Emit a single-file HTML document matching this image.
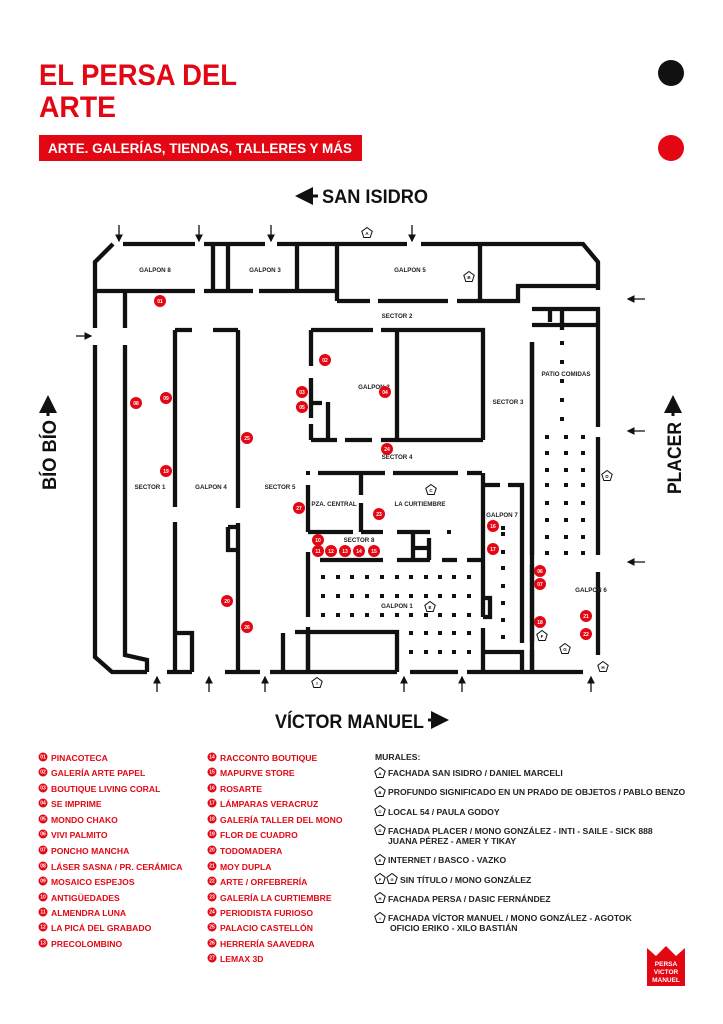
<!DOCTYPE html>
<html><head><meta charset="utf-8"><style>
body{margin:0;background:#fff;}
svg{display:block;font-family:"Liberation Sans",sans-serif;font-weight:bold;}
.w{stroke:#111;stroke-width:4.3;fill:none;stroke-linecap:butt}
.d{fill:#111}
.lb{font-size:6.2px;fill:#222;text-anchor:middle}
.m circle{fill:#e30613}
.m text{fill:#fff;font-size:5px;text-anchor:middle}
.lg{font-size:8.6px;fill:#e30613}
.mu{font-size:8.6px;fill:#222}
.ar{stroke:#111;stroke-width:1.3;fill:none}
.n text{fill:#fff;font-size:4px;text-anchor:middle}
</style></head><body>
<svg width="723" height="1024" viewBox="0 0 723 1024">
<defs>
<marker id="ah" markerWidth="6" markerHeight="6" refX="5" refY="3" orient="auto"><path d="M0,0L6,3L0,6z" fill="#111"/></marker>
<g id="pent"><path d="M0,-5.5L5.2,-1.7L3.2,4.5L-3.2,4.5L-5.2,-1.7Z" fill="#fff" stroke="#111" stroke-width="1"/></g>
</defs>
<text x="39" y="85" font-size="30" fill="#e30613" textLength="198" lengthAdjust="spacingAndGlyphs">EL PERSA DEL</text>
<text x="39" y="117" font-size="30" fill="#e30613" textLength="77" lengthAdjust="spacingAndGlyphs">ARTE</text>
<rect x="39" y="135" width="323" height="26" fill="#e30613"/>
<text x="48" y="153" font-size="13.5" fill="#fff" textLength="304" lengthAdjust="spacingAndGlyphs">ARTE. GALERÍAS, TIENDAS, TALLERES Y MÁS</text>
<circle cx="671" cy="73" r="13" fill="#111"/>
<circle cx="671" cy="148" r="13" fill="#e30613"/>
<path d="M318,196H298" stroke="#111" stroke-width="3" marker-end="url(#ah)"/>
<text x="322" y="203" font-size="19" fill="#111" textLength="106" lengthAdjust="spacingAndGlyphs">SAN ISIDRO</text>
<text x="275" y="728" font-size="19" fill="#111" textLength="149" lengthAdjust="spacingAndGlyphs">VÍCTOR MANUEL</text>
<path d="M428,720H446" stroke="#111" stroke-width="3" marker-end="url(#ah)"/>
<text transform="translate(56,490) rotate(-90)" font-size="19" fill="#111" textLength="70" lengthAdjust="spacingAndGlyphs">BÍO BÍO</text>
<path d="M48,416V398" stroke="#111" stroke-width="3" marker-end="url(#ah)"/>
<text transform="translate(681,494) rotate(-90)" font-size="19" fill="#111" textLength="72" lengthAdjust="spacingAndGlyphs">PLACER</text>
<path d="M673,416V398" stroke="#111" stroke-width="3" marker-end="url(#ah)"/>
<g class="w">
<path d="M95,328V262L113,244"/>
<path d="M123,244H195M204,244H265M277,244H407M421,244H583L598,262V290"/>
<path d="M95,291H195M204,291H253M259,291H337"/>
<path d="M213,244V291M228,244V291M297,244V291M337,244V301"/>
<path d="M337,301H370M378,301H448M457,301H518V286H598"/>
<path d="M480,244V301"/>
<path d="M125,291V328M125,345V655L147,660V672"/>
<path d="M95,345V657L112,672H147"/>
<path d="M175,330H192M213,330H238"/>
<path d="M175,330V507M175,522V672M175,633H192V672"/>
<path d="M238,330V508M238,523V672M228,527H238M228,527V550H238"/>
<path d="M167,672H192M225,672H260M270,672H397M410,672H458M467,672H583"/>
<path d="M311,330H373M381,330H483V440M311,330V366M311,378V418M311,424V440"/>
<path d="M311,440H337M345,440H372M381,440H483M397,330V440M311,403H322M328,402V440"/>
<path d="M532,309H598V427M598,437V555M598,572V655M532,325H598M550,309V322M562,309V330M532,342V672"/>
<path d="M318,473H385M393,473H458M467,473H482"/>
<path d="M361,473V495M361,503V532"/>
<path d="M308,532H353M361,532H383M397,532H430"/>
<path d="M308,485V532M308,552V617M308,627V672"/>
<path d="M320,560H383M397,560H430M442,560H457M467,560H482"/>
<path d="M413,532V560M429,538V560M413,548H429"/>
<path d="M483,473V617M483,598H490V617H483M483,628V672M483,485H500M508,485H522V643"/>
<path d="M483,652H522V672"/>
<path d="M532,342V555M532,565V642M532,650V672"/>
<path d="M295,632H397V672M308,632V672M283,633V672"/>
</g>
<rect x="306" y="471" width="4" height="4" class="d"/>
<rect x="447" y="530" width="4" height="4" class="d"/>
<g class="d">
<rect x="560" y="341" width="4" height="4"/><rect x="560" y="360" width="4" height="4"/><rect x="560" y="379" width="4" height="4"/><rect x="560" y="398" width="4" height="4"/><rect x="560" y="417" width="4" height="4"/>
</g>
<g class="d" id="fg"></g>
<g class="d" id="g7"></g>
<g class="d" id="g1"></g>
<g class="m" id="lm"></g>
<script>
(function(){var ns="http://www.w3.org/2000/svg";function r(g,x,y){var e=document.createElementNS(ns,"rect");e.setAttribute("x",x-2);e.setAttribute("y",y-2);e.setAttribute("width",4);e.setAttribute("height",4);document.getElementById(g).appendChild(e);}
[437,453,470,485,503,520,537,553].forEach(function(y){[547,566,583].forEach(function(x){r("fg",x,y);});});
[528,534,552,568,586,603,620,637].forEach(function(y){r("g7",503,y);});
[577,596,615].forEach(function(y){[323,338,352,367,382,397,411,426,440,454,469].forEach(function(x){r("g1",x,y);});});
[633,652].forEach(function(y){[411,426,440,454,469].forEach(function(x){r("g1",x,y);});});
var lm=document.getElementById("lm");function c(x,y,n){var e=document.createElementNS(ns,"circle");e.setAttribute("cx",x);e.setAttribute("cy",y);e.setAttribute("r",4.5);lm.appendChild(e);var t=document.createElementNS(ns,"text");t.setAttribute("x",x);t.setAttribute("y",y+1.5);t.setAttribute("font-size","4");t.textContent=n;lm.appendChild(t);}
var L=[757,772,788,803,819,834,850,866,881,897,912,927,943];L.forEach(function(y,i){c(43,y,("0"+(i+1)).slice(-2));});
var R=[757,772,788,803,819,834,850,866,881,897,912,927,943,958];R.forEach(function(y,i){c(212,y,""+(i+14));});
})();
</script>
<g class="ar">
<path d="M119,225V241" marker-end="url(#ah)"/><path d="M199,225V241" marker-end="url(#ah)"/><path d="M271,225V241" marker-end="url(#ah)"/><path d="M412,225V241" marker-end="url(#ah)"/>
<path d="M76,336H91" marker-end="url(#ah)"/>
<path d="M645,299H628" marker-end="url(#ah)"/><path d="M645,431H628" marker-end="url(#ah)"/><path d="M645,562H628" marker-end="url(#ah)"/>
<path d="M157,692V677" marker-end="url(#ah)"/><path d="M209,692V677" marker-end="url(#ah)"/><path d="M265,692V677" marker-end="url(#ah)"/><path d="M404,692V677" marker-end="url(#ah)"/><path d="M462,692V677" marker-end="url(#ah)"/><path d="M591,692V677" marker-end="url(#ah)"/>
</g>
<g class="lb">
<text x="155" y="272">GALPON 8</text><text x="265" y="272">GALPON 3</text><text x="410" y="272">GALPON 5</text>
<text x="397" y="318">SECTOR 2</text><text x="374" y="389">GALPON 2</text><text x="508" y="404">SECTOR 3</text>
<text x="566" y="376">PATIO COMIDAS</text><text x="397" y="459">SECTOR 4</text>
<text x="150" y="489">SECTOR 1</text><text x="211" y="489">GALPON 4</text><text x="280" y="489">SECTOR 5</text>
<text x="334" y="506">PZA. CENTRAL</text><text x="420" y="506">LA CURTIEMBRE</text><text x="502" y="517">GALPON 7</text>
<text x="359" y="542">SECTOR 8</text><text x="397" y="608">GALPON 1</text><text x="591" y="592">GALPON 6</text>
</g>
<g font-size="4.5" fill="#111" text-anchor="middle">
<use href="#pent" x="367" y="233"/><text x="367" y="235">A</text>
<use href="#pent" x="469" y="277"/><text x="469" y="279">B</text>
<use href="#pent" x="431" y="490"/><text x="431" y="492">C</text>
<use href="#pent" x="607" y="476"/><text x="607" y="478">D</text>
<use href="#pent" x="430" y="607"/><text x="430" y="609">E</text>
<use href="#pent" x="542" y="636"/><text x="542" y="638">F</text>
<use href="#pent" x="565" y="649"/><text x="565" y="651">G</text>
<use href="#pent" x="603" y="667"/><text x="603" y="669">H</text>
<use href="#pent" x="317" y="683"/><text x="317" y="685">I</text>
</g>
<g class="m">
<circle cx="160" cy="301" r="6"/><text x="160" y="303">01</text>
<circle cx="325" cy="360" r="6"/><text x="325" y="362">02</text>
<circle cx="302" cy="392" r="6"/><text x="302" y="394">03</text>
<circle cx="385" cy="392" r="6"/><text x="385" y="394">04</text>
<circle cx="302" cy="407" r="6"/><text x="302" y="409">05</text>
<circle cx="540" cy="571" r="6"/><text x="540" y="573">06</text>
<circle cx="540" cy="584" r="6"/><text x="540" y="586">07</text>
<circle cx="136" cy="403" r="6"/><text x="136" y="405">08</text>
<circle cx="166" cy="398" r="6"/><text x="166" y="400">09</text>
<circle cx="318" cy="540" r="6"/><text x="318" y="542">10</text>
<circle cx="318" cy="551" r="6"/><text x="318" y="553">11</text>
<circle cx="331" cy="551" r="6"/><text x="331" y="553">12</text>
<circle cx="345" cy="551" r="6"/><text x="345" y="553">13</text>
<circle cx="359" cy="551" r="6"/><text x="359" y="553">14</text>
<circle cx="374" cy="551" r="6"/><text x="374" y="553">15</text>
<circle cx="493" cy="526" r="6"/><text x="493" y="528">16</text>
<circle cx="493" cy="549" r="6"/><text x="493" y="551">17</text>
<circle cx="540" cy="622" r="6"/><text x="540" y="624">18</text>
<circle cx="166" cy="471" r="6"/><text x="166" y="473">19</text>
<circle cx="227" cy="601" r="6"/><text x="227" y="603">20</text>
<circle cx="586" cy="616" r="6"/><text x="586" y="618">21</text>
<circle cx="586" cy="634" r="6"/><text x="586" y="636">22</text>
<circle cx="379" cy="514" r="6"/><text x="379" y="516">23</text>
<circle cx="387" cy="449" r="6"/><text x="387" y="451">24</text>
<circle cx="247" cy="438" r="6"/><text x="247" y="440">25</text>
<circle cx="247" cy="627" r="6"/><text x="247" y="629">26</text>
<circle cx="299" cy="508" r="6"/><text x="299" y="510">27</text>
</g>
<g class="lg">
<text x="51" y="761">PINACOTECA</text>
<text x="51" y="776">GALERÍA ARTE PAPEL</text>
<text x="51" y="792">BOUTIQUE LIVING CORAL</text>
<text x="51" y="807">SE IMPRIME</text>
<text x="51" y="823">MONDO CHAKO</text>
<text x="51" y="838">VIVI PALMITO</text>
<text x="51" y="854">PONCHO MANCHA</text>
<text x="51" y="870">LÁSER SASNA / PR. CERÁMICA</text>
<text x="51" y="885">MOSAICO ESPEJOS</text>
<text x="51" y="901">ANTIGÜEDADES</text>
<text x="51" y="916">ALMENDRA LUNA</text>
<text x="51" y="931">LA PICÁ DEL GRABADO</text>
<text x="51" y="947">PRECOLOMBINO</text>
<text x="220" y="761">RACCONTO BOUTIQUE</text>
<text x="220" y="776">MAPURVE STORE</text>
<text x="220" y="792">ROSARTE</text>
<text x="220" y="807">LÁMPARAS VERACRUZ</text>
<text x="220" y="823">GALERÍA TALLER DEL MONO</text>
<text x="220" y="838">FLOR DE CUADRO</text>
<text x="220" y="854">TODOMADERA</text>
<text x="220" y="870">MOY DUPLA</text>
<text x="220" y="885">ARTE / ORFEBRERÍA</text>
<text x="220" y="901">GALERÍA LA CURTIEMBRE</text>
<text x="220" y="916">PERIODISTA FURIOSO</text>
<text x="220" y="931">PALACIO CASTELLÓN</text>
<text x="220" y="947">HERRERÍA SAAVEDRA</text>
<text x="220" y="962">LEMAX 3D</text>
</g>
<g class="mu">
<text x="375" y="760">MURALES:</text>
<text x="388" y="776">FACHADA SAN ISIDRO / DANIEL MARCELI</text>
<text x="388" y="795">PROFUNDO SIGNIFICADO EN UN PRADO DE OBJETOS / PABLO BENZO</text>
<text x="388" y="815">LOCAL 54 / PAULA GODOY</text>
<text x="388" y="834">FACHADA PLACER / MONO GONZÁLEZ - INTI - SAILE - SICK 888</text>
<text x="388" y="844">JUANA PÉREZ - AMER Y TIKAY</text>
<text x="388" y="863">INTERNET / BASCO - VAZKO</text>
<text x="400" y="883">SIN TÍTULO / MONO GONZÁLEZ</text>
<text x="388" y="902">FACHADA PERSA / DASIC FERNÁNDEZ</text>
<text x="388" y="921">FACHADA VÍCTOR MANUEL / MONO GONZÁLEZ - AGOTOK</text>
<text x="390" y="931">OFICIO ERIKO - XILO BASTIÁN</text>
</g>
<g font-size="4" fill="#111" text-anchor="middle">
<use href="#pent" x="380" y="773"/><text x="380" y="775">A</text>
<use href="#pent" x="380" y="792"/><text x="380" y="794">B</text>
<use href="#pent" x="380" y="811"/><text x="380" y="813">C</text>
<use href="#pent" x="380" y="830"/><text x="380" y="832">D</text>
<use href="#pent" x="380" y="860"/><text x="380" y="862">E</text>
<use href="#pent" x="380" y="879"/><text x="380" y="881">F</text>
<use href="#pent" x="392" y="879"/><text x="392" y="881">G</text>
<use href="#pent" x="380" y="898"/><text x="380" y="900">H</text>
<use href="#pent" x="380" y="918"/><text x="380" y="920">I</text>
</g>
<path d="M647,948L656,956L666,946L676,956L685,948V986H647Z" fill="#e30613"/>
<g fill="#fff" font-size="6.5" text-anchor="middle"><text x="666" y="966">PERSA</text><text x="666" y="974">VICTOR</text><text x="666" y="982">MANUEL</text></g>
</svg>
</body></html>
